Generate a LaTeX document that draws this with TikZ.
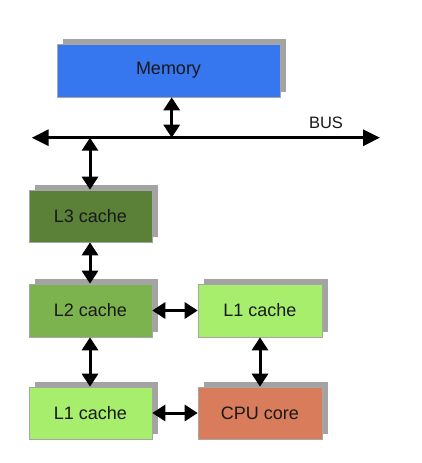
\documentclass[tikz,border=0pt]{standalone}
\usepackage{fontspec}
\setmainfont{Liberation Sans}
\usetikzlibrary{arrows.meta,shadows}
\definecolor{memblue}{HTML}{3676EE}
\definecolor{lthree}{HTML}{5B8139}
\definecolor{ltwo}{HTML}{7DB34E}
\definecolor{lone}{HTML}{A6EE6B}
\definecolor{cpuc}{HTML}{D87C5C}
\definecolor{shadowc}{HTML}{A3A3A3}
\tikzset{
  box/.style={draw=black!35, line width=0.6pt, inner sep=0pt,
    font=\fontsize{18}{20}\selectfont, text=black!90,
    general shadow={shadow xshift=6pt, shadow yshift=5pt, fill=shadowc}},
  link/.style={line width=3pt, {Triangle[width=16pt,length=13pt]}-{Triangle[width=16pt,length=13pt]}},
  buslink/.style={line width=3pt, {Triangle[width=16pt,length=17pt]}-{Triangle[width=16pt,length=17pt]}}
}
\begin{document}
\begin{tikzpicture}[x=1pt,y=-1pt]
\useasboundingbox[fill=white] (0,0) rectangle (422,463);
\node[box, fill=memblue, minimum width=223pt, minimum height=53pt] (mem) at (168.5,70.5) {Memory};
\node[box, fill=lthree, minimum width=123pt, minimum height=52pt] (l3) at (90.5,216) {L3 cache};
\node[box, fill=ltwo, minimum width=123pt, minimum height=53pt] (l2) at (90.5,310.5) {L2 cache};
\node[box, fill=lone, minimum width=124pt, minimum height=53pt] (l1r) at (260,310.5) {L1 cache};
\node[box, fill=lone, minimum width=123pt, minimum height=52pt] (l1b) at (90.5,413) {L1 cache};
\node[box, fill=cpuc, minimum width=124pt, minimum height=52pt] (cpu) at (260,413) {CPU core};
\coordinate (busL) at (31.7,137.7);
\coordinate (busR) at (380,137.7);
\coordinate (busM) at (171.7,137.7);
\coordinate (busC) at (90,137.7);
\node[font=\fontsize{16.5}{18}\selectfont, text=black!90] (buslabel) at (326,123) {BUS};
\draw[buslink] (busL) -- (busR);
\draw[link] (mem.south -| busM) -- (busM);
\draw[link] (busC) -- (l3.north -| busC);
\draw[link] (l3.south -| busC) -- (l2.north -| busC);
\draw[link] (l2.south -| busC) -- (l1b.north -| busC);
\draw[link] (l1r.south) -- (cpu.north);
\draw[link] (l2.east) -- (l1r.west);
\draw[link] (l1b.east) -- (cpu.west);
\end{tikzpicture}
\end{document}
